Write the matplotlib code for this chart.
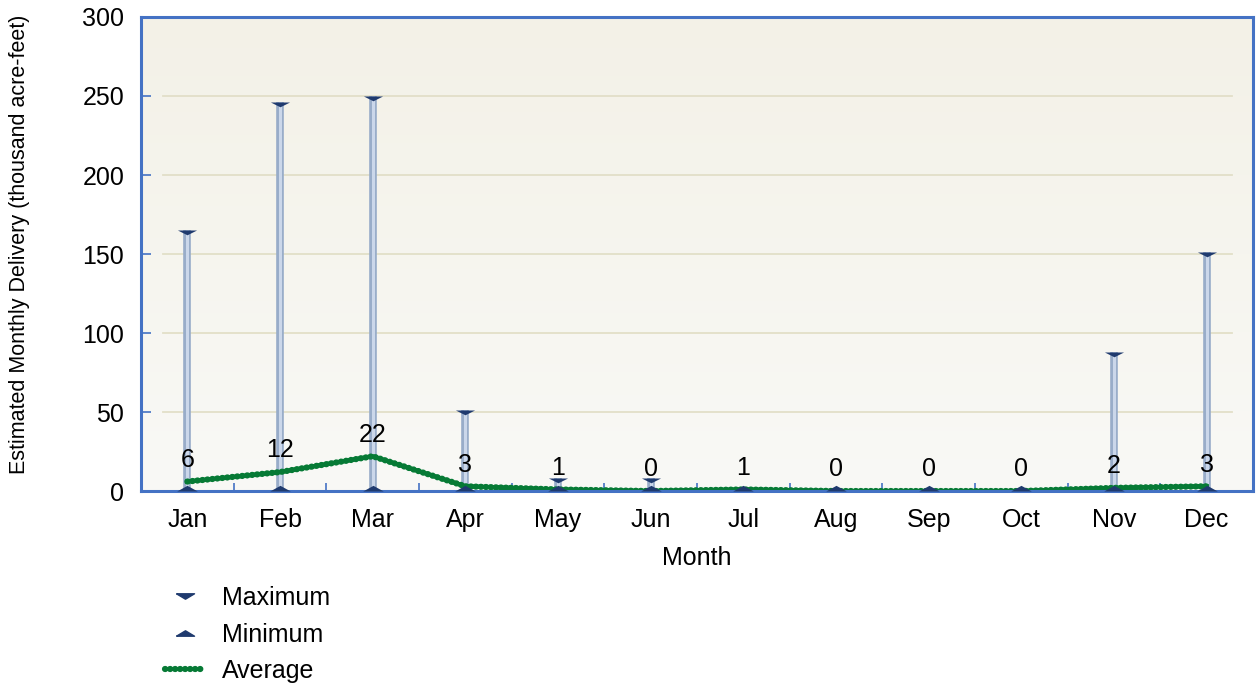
import numpy as np
import matplotlib.pyplot as plt
from matplotlib.lines import Line2D
from matplotlib.colors import LinearSegmentedColormap

plt.rcParams['font.family'] = ['Liberation Sans', 'DejaVu Sans']

months = ["Jan", "Feb", "Mar", "Apr", "May", "Jun", "Jul", "Aug", "Sep", "Oct", "Nov", "Dec"]
maximum = [165, 246, 250, 51, 8, 8, 0, 0, 0, 0, 88, 151]
minimum = [0, 0, 0, 0, 0, 0, 0, 0, 0, 0, 0, 0]
average = [6, 12, 22, 3, 1, 0, 1, 0, 0, 0, 2, 3]
avg_labels = ["6", "12", "22", "3", "1", "0", "1", "0", "0", "0", "2", "3"]

border = '#4472C4'
navy = '#1F3A6E'
green = '#067A35'

fig = plt.figure(figsize=(12.57, 6.88), dpi=100)
ax = fig.add_axes([0.1122, 0.2863, 0.8846, 0.689])

x = np.arange(len(months))
ax.set_xlim(-0.5, len(months) - 0.5)
ax.set_ylim(0, 300)

# background gradient
grad = np.linspace(0, 1, 256).reshape(-1, 1)
cmap = LinearSegmentedColormap.from_list('bg', ['#F9F9F6', '#F3F1E7'])
ax.imshow(grad, extent=[0, 1, 0, 1], transform=ax.transAxes, cmap=cmap,
          aspect='auto', origin='lower', zorder=0)

# gridlines
for yv in [50, 100, 150, 200, 250]:
    ax.plot([0.02, 0.981], [yv, yv], color='#E2DFC8', lw=1.3,
            transform=ax.get_yaxis_transform(), zorder=1)

# vertical range bars
ax.vlines(x, minimum, maximum, color='#98ACC9', lw=5.5, zorder=2)
ax.vlines(x, minimum, maximum, color='#CBD7EA', lw=2.2, zorder=2)

tri_down = [(-1, 0.0), (1, 0.0), (0, -0.5), (-1, 0.0)]
tri_up = [(-1, 0.0), (1, 0.0), (0, 0.55), (-1, 0.0)]
mx = [i for i in x if maximum[i] > 0]
ax.scatter(mx, [maximum[i] for i in mx], marker=tri_down, s=190, color=navy,
           zorder=4, linewidths=0)
ax.scatter(x, minimum, marker=tri_up, s=220, color=navy, zorder=9,
           linewidths=0)

# average line
ax.plot(x, average, color='#0A8A3E', lw=3.2, zorder=5)
ax.plot(x, average, color=green, lw=4.5, ls=(0, (0.05, 0.75)),
        dash_capstyle='round', zorder=6)

for i in x:
    ax.annotate(avg_labels[i], (i, average[i]), xytext=(0, 7),
                textcoords='offset points', ha='center', va='bottom',
                fontsize=18, zorder=7)

ax.set_xticks(x)
ax.set_xticklabels(months, fontsize=18)
ax.set_xticks(np.arange(-0.5, len(months)), minor=True)
ax.tick_params(axis='x', which='major', length=0, pad=12)
ax.tick_params(axis='x', which='minor', direction='in', length=6,
               color=border, width=1.2)
ax.set_yticks([0, 50, 100, 150, 200, 250, 300])
ax.tick_params(axis='y', direction='in', length=7, color=border, width=1.2,
               labelsize=18, pad=12)

for s in ax.spines.values():
    s.set_color(border)
    s.set_linewidth(2.2)
    s.set_zorder(8)

ax.set_xlabel("Month", fontsize=18, labelpad=10)
ax.set_ylabel("Estimated Monthly Delivery (thousand acre-feet)", fontsize=15.5)
ax.yaxis.set_label_coords(-0.1, 0.52)

handles = [
    Line2D([], [], ls='none', marker=[(-1, 0.3), (1, 0.3), (0, -0.3), (-1, 0.3)],
           markersize=13, color=navy),
    Line2D([], [], ls='none', marker=[(-1, -0.3), (1, -0.3), (0, 0.3), (-1, -0.3)],
           markersize=13, color=navy),
    Line2D([], [], color=green, lw=4.5, ls=(0, (0.05, 0.75)),
           dash_capstyle='round'),
]
fig.legend(handles, ["Maximum", "Minimum", "Average"], loc='upper left',
           bbox_to_anchor=(0.131, 0.148), frameon=False, fontsize=18,
           handlelength=1.6, labelspacing=0.5, handletextpad=0.7,
           borderaxespad=0, borderpad=0)

fig.savefig('out.png', dpi=100)
